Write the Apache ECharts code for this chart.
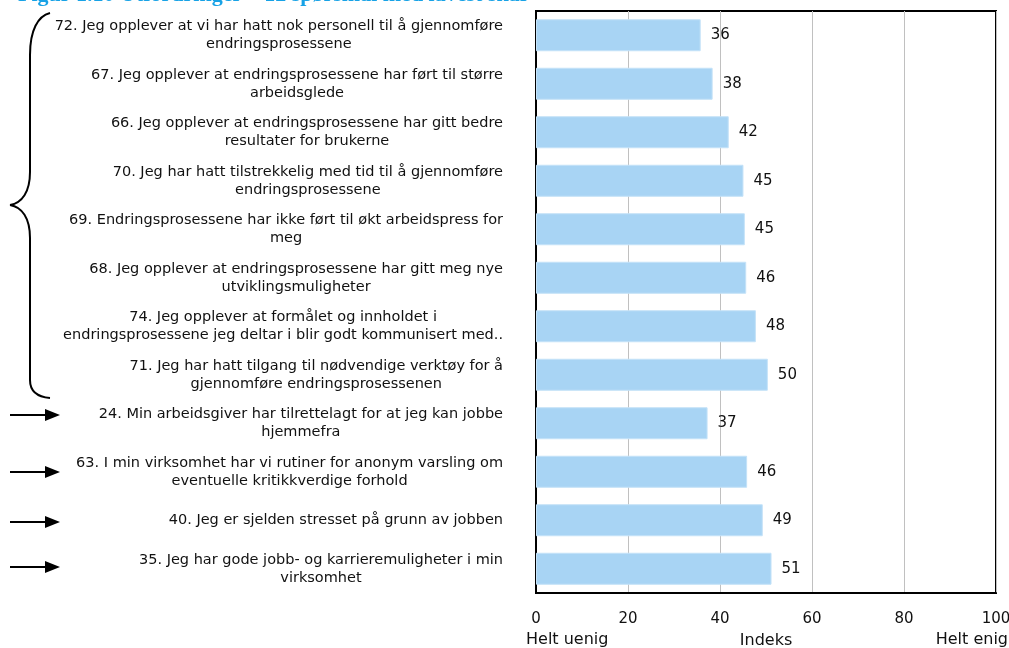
<!DOCTYPE html>
<html>
<head>
<meta charset="utf-8">
<script src="https://cdn.jsdelivr.net/npm/echarts@6/dist/echarts.min.js"></script>
<style>
  html, body { margin: 0; padding: 0; background: #fff; }
  #chart { width: 1009px; height: 648px; }
</style>
</head>
<body>
<div id="chart"></div>
<script>
  // spørsmål, topp til bunn
  const categories = [
    '72. Jeg opplever at vi har hatt nok personell til å gjennomføre\nendringsprosessene',
    '67. Jeg opplever at endringsprosessene har ført til større\narbeidsglede',
    '66. Jeg opplever at endringsprosessene har gitt bedre\nresultater for brukerne',
    '70. Jeg har hatt tilstrekkelig med tid til å gjennomføre\nendringsprosessene',
    '69. Endringsprosessene har ikke ført til økt arbeidspress for\nmeg',
    '68. Jeg opplever at endringsprosessene har gitt meg nye\nutviklingsmuligheter',
    '74. Jeg opplever at formålet og innholdet i\nendringsprosessene jeg deltar i blir godt kommunisert med..',
    '71. Jeg har hatt tilgang til nødvendige verktøy for å\ngjennomføre endringsprosessenen',
    '24. Min arbeidsgiver har tilrettelagt for at jeg kan jobbe\nhjemmefra',
    '63. I min virksomhet har vi rutiner for anonym varsling om\neventuelle kritikkverdige forhold',
    '40. Jeg er sjelden stresset på grunn av jobben',
    '35. Jeg har gode jobb- og karrieremuligheter i min\nvirksomhet'
  ];
  const values = [35.8, 38.4, 41.9, 45.1, 45.4, 45.7, 47.8, 50.4, 37.3, 45.9, 49.3, 51.2];
  const axisEnds = ['Helt uenig', 'Helt enig'];
  const axisName = 'Indeks';
  const title = 'Figur 1.10 Utfordringer – 12 spørsmål med lavest skår';

  const font = 'DejaVu Sans';
  let myChart = echarts.init(document.getElementById('chart'));

  const stroke = { stroke: '#000', lineWidth: 2, fill: null };

  // pil til venstre for enkeltspørsmålene
  function arrow(y) {
    return {
      type: 'group',
      children: [
        { type: 'line', shape: { x1: 10, y1: y, x2: 47, y2: y }, style: { stroke: '#000', lineWidth: 2 } },
        { type: 'polygon', shape: { points: [[45, y - 6], [60, y], [45, y + 6]] }, style: { fill: '#000' } }
      ]
    };
  }

  // klammeparentes rundt endringsspørsmålene
  function curve(x1, y1, cpx1, cpy1, cpx2, cpy2, x2, y2) {
    return { type: 'bezierCurve', shape: { x1, y1, cpx1, cpy1, cpx2, cpy2, x2, y2 }, style: stroke };
  }
  const brace = {
    type: 'group',
    children: [
      curve(50, 13, 38, 16, 30, 30, 30, 55),
      { type: 'line', shape: { x1: 30, y1: 55, x2: 30, y2: 172 }, style: stroke },
      curve(30, 172, 30, 192, 22, 203, 10, 205),
      curve(10, 205, 22, 207, 30, 218, 30, 238),
      { type: 'line', shape: { x1: 30, y1: 238, x2: 30, y2: 380 }, style: stroke },
      curve(30, 380, 30, 392, 38, 397, 50, 398)
    ]
  };

  let option = {
    animation: false,
    grid: {
      left: 536, right: 13, top: 11, bottom: 55,
      outerBoundsMode: 'none',
      show: true, borderColor: '#000', borderWidth: 2
    },
    xAxis: {
      type: 'value',
      min: 0, max: 100, interval: 20,
      name: axisName,
      nameLocation: 'middle',
      nameGap: 40,
      nameTextStyle: { fontFamily: font, fontSize: 16, color: '#111' },
      axisLine: { show: true, lineStyle: { color: '#000', width: 2 } },
      axisTick: { show: false },
      axisLabel: { margin: 19, fontFamily: font, fontSize: 15, color: '#111' },
      splitLine: { lineStyle: { color: '#c0c0c0', width: 1 } }
    },
    yAxis: {
      type: 'category',
      inverse: true,
      data: categories,
      axisLine: { show: true, lineStyle: { color: '#000', width: 2 } },
      axisTick: { show: false },
      axisLabel: {
        interval: 0,
        margin: 33,
        align: 'right',
        formatter: v => v.split('\n').map(s => '{c|' + s + '}').join('\n'),
        rich: {
          c: { align: 'center', fontFamily: font, fontSize: 14.5, lineHeight: 18, color: '#111' }
        }
      }
    },
    series: [{
      type: 'bar',
      data: values,
      barCategoryGap: '34%',
      itemStyle: { color: '#a8d4f4', borderColor: '#c4e2f8', borderWidth: 1 },
      label: {
        show: true,
        position: 'right',
        distance: 10,
        fontFamily: font,
        fontSize: 15,
        color: '#111',
        formatter: p => Math.round(p.value)
      }
    }],
    graphic: [
      {
        type: 'text', left: 18, top: -16,
        style: { text: title, font: 'bold 22px "Liberation Serif"', fill: '#17a2e6' }
      },
      {
        type: 'text', left: 526, top: 632,
        style: { text: axisEnds[0], font: '16px "DejaVu Sans"', fill: '#111' }
      },
      {
        type: 'text', right: 1, top: 632,
        style: { text: axisEnds[1], font: '16px "DejaVu Sans"', fill: '#111' }
      },
      brace,
      arrow(415),
      arrow(472),
      arrow(522),
      arrow(567)
    ]
  };
  myChart.setOption(option);
</script>
</body>
</html>
